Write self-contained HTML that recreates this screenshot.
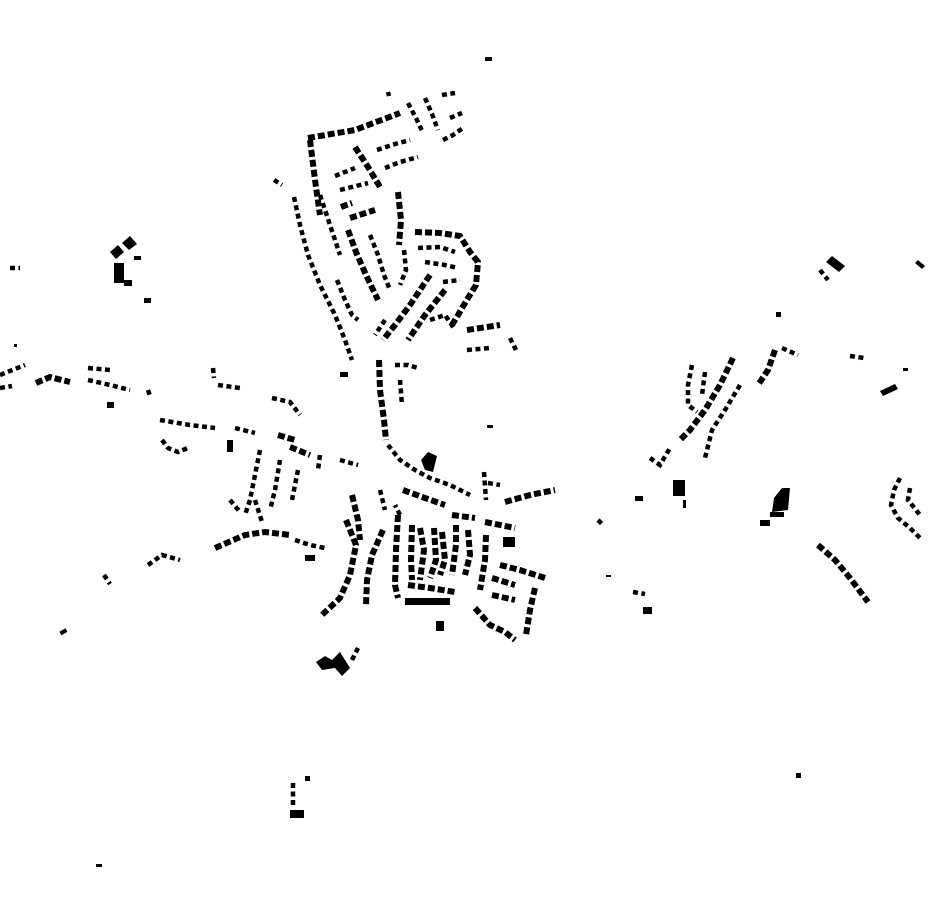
<!DOCTYPE html>
<html><head><meta charset="utf-8"><style>
html,body{margin:0;padding:0;background:#fff;width:930px;height:924px;overflow:hidden}
svg{display:block}
.d{fill:none;stroke:#000;stroke-width:6;stroke-dasharray:7 3}
.t{fill:none;stroke:#000;stroke-width:4.5;stroke-dasharray:5 3.5}
.s{fill:none;stroke:#000;stroke-width:3;stroke-dasharray:3 5}
</style></head><body>
<svg width="930" height="924" viewBox="0 0 930 924" xmlns="http://www.w3.org/2000/svg">
<polyline class="d" points="308,138 355,130 400,113"/>
<polyline class="t" points="388,92 389,96"/>
<polyline class="d" points="310,140 315,180 320,215"/>
<polyline class="t" points="320,195 330,225 340,255"/>
<polyline class="t" points="294,197 300,225 308,255 320,285 335,315 345,340 352,360"/>
<polyline class="d" points="355,147 368,167 380,187"/>
<polyline class="t" points="377,150 395,144 410,140"/>
<polyline class="t" points="385,168 400,162 418,157"/>
<polyline class="t" points="408,103 416,118 423,133"/>
<polyline class="t" points="425,98 432,114 438,130"/>
<polyline class="t" points="443,140 453,135 463,128"/>
<polyline class="t" points="442,95 455,93"/>
<polyline class="t" points="450,118 462,113"/>
<polyline class="t" points="335,176 355,168"/>
<polyline class="t" points="340,190 368,183"/>
<polyline class="d" points="341,207 352,203"/>
<polyline class="d" points="350,218 375,210"/>
<polyline class="d" points="398,192 401,220 399,245"/>
<polyline class="d" points="348,230 356,252 366,275 378,300"/>
<polyline class="t" points="370,235 378,255 384,275 390,290"/>
<polyline class="t" points="337,280 345,300 352,315 358,320"/>
<polyline class="d" points="415,232 440,233 460,236 470,252 478,262 476,285 468,298 458,315 452,325"/>
<polyline class="t" points="418,248 440,247 455,252"/>
<polyline class="t" points="425,262 445,265 458,268"/>
<polyline class="t" points="443,282 460,280"/>
<polyline class="d" points="430,275 410,305 395,325 383,340"/>
<polyline class="d" points="445,290 425,315 408,340"/>
<polyline class="t" points="404,250 406,270 400,285"/>
<polyline class="t" points="385,320 375,335"/>
<polyline class="t" points="430,320 445,315 455,330"/>
<polyline class="d" points="467,330 500,325"/>
<polyline class="t" points="467,350 490,348"/>
<polyline class="t" points="510,338 516,350"/>
<polyline class="t" points="274,180 282,185"/>
<rect x="485" y="57" width="7" height="4" fill="#000"/>
<polyline class="d" points="379,360 380,390 384,420 386,440"/>
<polyline class="t" points="395,365 408,365 418,368"/>
<polyline class="t" points="400,380 402,405"/>
<rect x="340" y="372" width="8" height="5" fill="#000"/>
<polyline class="t" points="388,445 400,460 415,470 430,478 450,485 470,495"/>
<polygon points="421,460 428,452 437,456 433,472 425,470" fill="#000"/>
<polyline class="t" points="484,472 486,500"/>
<polyline class="d" points="505,502 530,495 555,490"/>
<polyline class="t" points="488,483 500,485"/>
<rect x="487" y="425" width="6" height="3" fill="#000"/>
<polyline class="d" points="403,490 425,498 445,505"/>
<polyline class="d" points="452,515 475,518"/>
<polyline class="d" points="485,522 515,528"/>
<polyline class="d" points="398,515 396,550 395,585 398,598"/>
<polyline class="d" points="412,525 411,560 412,580"/>
<polyline class="d" points="420,528 424,550 420,580"/>
<polyline class="d" points="434,528 436,560 430,578"/>
<polyline class="d" points="442,532 445,560 440,575"/>
<polyline class="d" points="456,525 456,545 452,575"/>
<polyline class="d" points="468,530 470,555 465,575"/>
<polyline class="d" points="408,585 430,588 455,592"/>
<rect x="405" y="598" width="45" height="7" fill="#000"/>
<polyline class="d" points="383,530 372,555 367,580 366,605"/>
<polyline class="d" points="352,495 358,520 360,540"/>
<polyline class="d" points="346,520 356,545 350,575 340,598 322,615"/>
<polyline class="d" points="486,535 485,560 480,590"/>
<polyline class="d" points="500,565 520,570 545,578"/>
<polyline class="d" points="492,578 515,585"/>
<polyline class="d" points="492,595 515,600"/>
<polyline class="d" points="535,588 530,610 526,635"/>
<polyline class="d" points="475,608 490,625 505,632 515,640"/>
<rect x="503" y="537" width="12" height="10" fill="#000"/>
<rect x="436" y="621" width="8" height="10" fill="#000"/>
<polyline class="t" points="400,515 395,505"/>
<polyline class="t" points="380,490 385,510"/>
<polyline class="d" points="278,435 295,440"/>
<polyline class="d" points="290,447 310,455"/>
<polyline class="t" points="272,398 290,402 300,415"/>
<polyline class="t" points="260,450 255,475 250,500 245,515"/>
<polyline class="t" points="280,460 275,490 270,510"/>
<polyline class="t" points="298,470 292,500"/>
<polyline class="t" points="320,455 318,470"/>
<polyline class="t" points="340,460 358,465"/>
<polyline class="d" points="215,548 245,535 265,532 290,535"/>
<polyline class="t" points="295,540 310,545 325,548"/>
<rect x="305" y="555" width="10" height="6" fill="#000"/>
<polyline class="t" points="255,500 262,522"/>
<polyline class="t" points="230,500 240,512"/>
<polyline class="t" points="160,420 190,425 215,428"/>
<polyline class="t" points="162,440 168,448 178,452 188,448"/>
<rect x="227" y="440" width="6" height="12" fill="#000"/>
<polyline class="t" points="235,428 255,433"/>
<polyline class="t" points="213,368 214,378"/>
<polyline class="t" points="218,385 240,388"/>
<polyline class="t" points="148,565 162,555 180,560"/>
<polyline class="t" points="104,575 110,584"/>
<rect x="60" y="630" width="7" height="4" fill="#000" transform="rotate(-30 63 632)"/>
<polyline class="t" points="0,375 25,365"/>
<polyline class="t" points="0,388 12,386"/>
<polyline class="d" points="36,383 50,377 70,382"/>
<polyline class="t" points="88,368 110,370"/>
<polyline class="t" points="88,380 110,385 130,390"/>
<rect x="107" y="402" width="7" height="6" fill="#000"/>
<polyline class="t" points="148,390 150,396"/>
<rect x="14" y="344" width="3" height="3" fill="#000"/>
<polyline class="t" points="10,268 20,268"/>
<polygon points="110,252 118,245 124,252 116,259" fill="#000"/>
<polygon points="122,243 130,236 137,244 129,250" fill="#000"/>
<rect x="114" y="263" width="10" height="20" fill="#000"/>
<rect x="124" y="280" width="8" height="6" fill="#000"/>
<rect x="134" y="256" width="7" height="4" fill="#000"/>
<rect x="144" y="298" width="7" height="5" fill="#000"/>
<polygon points="316,662 325,656 332,660 340,652 350,668 342,676 335,668 322,670" fill="#000"/>
<polyline class="t" points="352,660 358,648"/>
<polyline class="t" points="293,783 293,805"/>
<rect x="290" y="810" width="14" height="8" fill="#000"/>
<rect x="305" y="776" width="5" height="5" fill="#000"/>
<rect x="96" y="864" width="6" height="3" fill="#000"/>
<polyline class="t" points="692,365 688,385 688,405 697,412"/>
<polyline class="t" points="705,372 702,395"/>
<polyline class="d" points="733,358 720,385 705,410 690,430 680,440"/>
<polyline class="t" points="740,385 725,410 712,430 705,458"/>
<polyline class="d" points="775,350 768,370 758,385"/>
<polyline class="t" points="782,348 798,355"/>
<polyline class="t" points="650,458 660,465 670,448"/>
<rect x="776" y="312" width="5" height="5" fill="#000"/>
<polygon points="826,262 832,256 845,266 839,272" fill="#000"/>
<polyline class="t" points="820,270 828,280"/>
<polygon points="915,263 918,260 925,266 922,269" fill="#000"/>
<polyline class="t" points="850,356 864,358"/>
<polygon points="880,391 895,384 898,389 883,396" fill="#000"/>
<rect x="903" y="368" width="5" height="3" fill="#000"/>
<rect x="673" y="480" width="12" height="16" fill="#000"/>
<rect x="683" y="500" width="3" height="8" fill="#000"/>
<rect x="635" y="496" width="8" height="5" fill="#000"/>
<polygon points="774,498 782,488 790,488 788,510 772,512" fill="#000"/>
<rect x="770" y="512" width="14" height="5" fill="#000"/>
<rect x="760" y="520" width="10" height="6" fill="#000"/>
<polyline class="t" points="598,520 602,524"/>
<polyline class="t" points="900,478 894,490 891,505 898,518 910,528 922,540"/>
<polyline class="t" points="910,488 908,500 920,515"/>
<polyline class="d" points="818,545 835,560 850,578 868,602"/>
<rect x="796" y="773" width="5" height="5" fill="#000"/>
<polyline class="t" points="633,592 645,594"/>
<rect x="643" y="607" width="9" height="7" fill="#000"/>
<rect x="606" y="575" width="5" height="2" fill="#000"/>
</svg>
</body></html>
